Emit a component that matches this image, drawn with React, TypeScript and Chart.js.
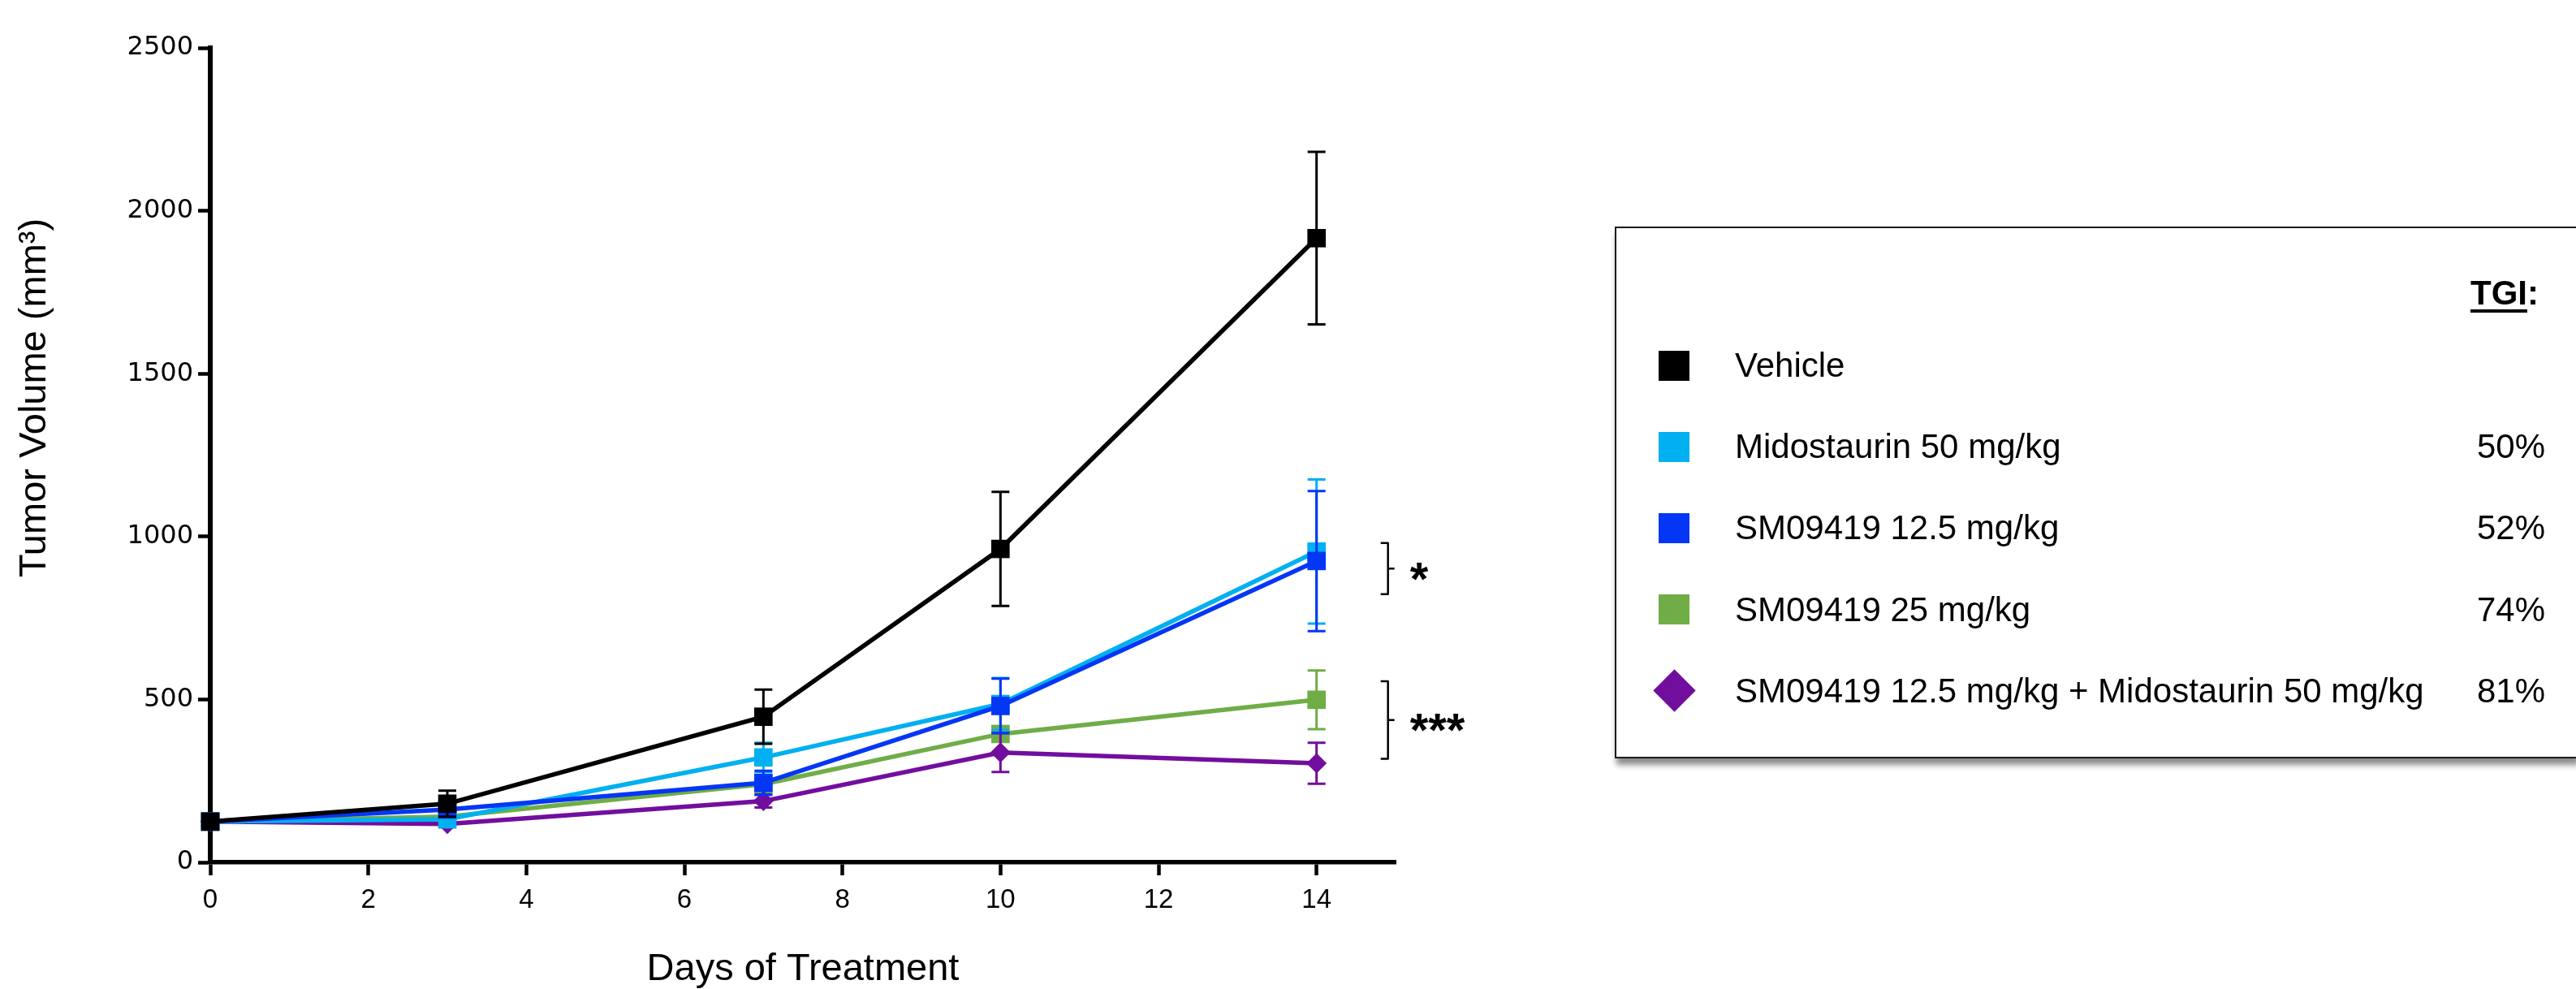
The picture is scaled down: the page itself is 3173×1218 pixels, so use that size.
import React, { useEffect, useRef } from "react";
import { Chart, registerables } from "chart.js";

Chart.register(...registerables);

// ---------- data ----------
const DAYS = [0, 3, 7, 10, 14];

const VEHICLE = [125, 180, 447, 962, 1916];
const VEHICLE_SEM = [8, 40, 83, 175, 265];

const MIDO = [125, 132, 322, 486, 954];
const MIDO_SEM = [8, 15, 45, 80, 221];

const SM125 = [125, 162, 244, 480, 925];
const SM125_SEM = [8, 12, 37, 84, 215];

const SM25 = [125, 140, 240, 394, 499];
const SM25_SEM = [8, 12, 20, 20, 90];

const COMBO = [125, 118, 188, 337, 304];
const COMBO_SEM = [8, 10, 20, 60, 63];

const SERIES_LABELS = [
  "Vehicle",
  "Midostaurin 50 mg/kg",
  "SM09419 12.5 mg/kg",
  "SM09419 25 mg/kg",
  "SM09419 12.5 mg/kg + Midostaurin 50 mg/kg",
];
const SERIES_COLORS = ["#000000", "#00B0F0", "#0436F5", "#70AD47", "#720E9E"];
const SERIES_SHAPES = ["rect", "rect", "rect", "rect", "rectRot"];
const DRAW_ORDER = [0, 2, 1, 4, 3]; // lower = drawn on top
const TGI_VALUES = ["", "50%", "52%", "74%", "81%"];

const X_MIN = 0;
const X_MAX = 15;
const X_STEP = 2;
const Y_MIN = 0;
const Y_MAX = 2500;
const Y_STEP = 500;

const X_TITLE = "Days of Treatment";
const Y_TITLE = "Tumor Volume (mm³)";
const LEGEND_HEADER = "TGI";

const SIG_FROM = [980, 556];
const SIG_TO = [823, 318];
const SIG_LABELS = ["*", "***"];

const SERIES_VALUES = [VEHICLE, MIDO, SM125, SM25, COMBO];
const SERIES_SEM = [VEHICLE_SEM, MIDO_SEM, SM125_SEM, SM25_SEM, COMBO_SEM];

const ARIAL = "'Liberation Sans', Arial, Helvetica, sans-serif";

export default function App() {
  const ref = useRef<HTMLCanvasElement>(null);

  useEffect(() => {
    const canvas = ref.current;
    if (!canvas) return;

    const errorBars = {
      id: "errorBars",
      beforeDatasetDraw(chart: any, args: any) {
        const i = args.index;
        const meta = args.meta;
        const y = chart.scales.y;
        const ctx = chart.ctx;
        ctx.save();
        ctx.strokeStyle = SERIES_COLORS[i];
        ctx.lineWidth = 3;
        ctx.lineCap = "butt";
        meta.data.forEach((pt: any, j: number) => {
          const v = SERIES_VALUES[i][j];
          const e = SERIES_SEM[i][j];
          const top = y.getPixelForValue(v + e);
          const bot = y.getPixelForValue(v - e);
          ctx.beginPath();
          ctx.moveTo(pt.x, top);
          ctx.lineTo(pt.x, bot);
          ctx.moveTo(pt.x - 11, top);
          ctx.lineTo(pt.x + 11, top);
          ctx.moveTo(pt.x - 11, bot);
          ctx.lineTo(pt.x + 11, bot);
          ctx.stroke();
        });
        ctx.restore();
      },
    };

    const annotations = {
      id: "annotations",
      afterDraw(chart: any) {
        const ctx = chart.ctx;
        const xs = chart.scales.x;
        const ys = chart.scales.y;
        // y axis title
        ctx.save();
        ctx.translate(43, 490);
        ctx.rotate(-Math.PI / 2);
        ctx.fillStyle = "#000";
        ctx.font = `47px ${ARIAL}`;
        ctx.textAlign = "center";
        ctx.textBaseline = "middle";
        ctx.fillText(Y_TITLE, 0, 0);
        ctx.restore();

        // significance brackets
        const xLine = xs.getPixelForValue(14) + 88;
        SIG_LABELS.forEach((lab, k) => {
          const t = ys.getPixelForValue(SIG_FROM[k]);
          const b = ys.getPixelForValue(SIG_TO[k]);
          const mid = (t + b) / 2;
          ctx.save();
          ctx.strokeStyle = "#000";
          ctx.lineWidth = 2.5;
          ctx.lineJoin = "round";
          ctx.beginPath();
          ctx.moveTo(xLine - 9, t);
          ctx.lineTo(xLine, t);
          ctx.lineTo(xLine, b);
          ctx.lineTo(xLine - 9, b);
          ctx.moveTo(xLine, mid);
          ctx.lineTo(xLine + 8, mid);
          ctx.stroke();
          ctx.fillStyle = "#000";
          ctx.font = `bold 58px ${ARIAL}`;
          ctx.textAlign = "left";
          ctx.textBaseline = "alphabetic";
          ctx.fillText(lab, xLine + 27, mid + 0.56 * 58);
          ctx.restore();
        });
      },
    };

    const datasets = SERIES_LABELS.map((label, i) => ({
      label,
      data: DAYS.map((d, j) => ({ x: d, y: SERIES_VALUES[i][j] })),
      borderColor: SERIES_COLORS[i],
      backgroundColor: SERIES_COLORS[i],
      borderWidth: 5.5,
      pointStyle: SERIES_SHAPES[i],
      pointRadius: SERIES_SHAPES[i] === "rectRot" ? 12.5 : 16,
      pointBorderWidth: 0,
      pointBackgroundColor: SERIES_COLORS[i],
      tension: 0,
      clip: false,
      order: DRAW_ORDER[i],
    }));

    const chart = new Chart(canvas, {
      type: "line",
      data: { datasets },
      plugins: [errorBars, annotations],
      options: {
        responsive: false,
        animation: false,
        events: [],
        layout: { padding: { left: 0, top: 59, right: 1454, bottom: 0 } },
        plugins: {
          legend: { display: false },
          tooltip: { enabled: false },
        },
        scales: {
          x: {
            type: "linear",
            min: X_MIN,
            max: X_MAX,
            border: { display: true, color: "#000", width: 5.5 },
            grid: {
              display: true,
              drawOnChartArea: false,
              drawTicks: true,
              tickLength: 16,
              tickWidth: 4.5,
              tickColor: "#000",
              color: "#000",
            },
            ticks: {
              stepSize: X_STEP,
              includeBounds: false,
              autoSkip: false,
              maxRotation: 0,
              color: "#000",
              padding: 11,
              font: { family: ARIAL, size: 33 },
              callback: (v: any) => String(v),
            },
            title: {
              display: true,
              text: X_TITLE,
              color: "#000",
              padding: 0,
              font: { family: ARIAL, size: 47, lineHeight: 1 },
            },
            afterFit: (s: any) => {
              s.height = 156;
            },
          },
          y: {
            type: "linear",
            min: Y_MIN,
            max: Y_MAX,
            border: { display: true, color: "#000", width: 6 },
            grid: {
              display: true,
              drawOnChartArea: false,
              drawTicks: true,
              tickLength: 15,
              tickWidth: 4.5,
              tickColor: "#000",
              color: "#000",
            },
            ticks: {
              stepSize: Y_STEP,
              color: "#000",
              padding: 6,
              font: { family: "'DejaVu Sans', Verdana, sans-serif", size: 32 },
              callback: (v: any) => String(v),
            },
            afterFit: (s: any) => {
              s.width = 259;
            },
          },
        },
      } as any,
    });

    return () => chart.destroy();
  }, []);

  const rowCenter = (i: number) => 450 + i * 100.2;

  return (
    <div
      style={{
        position: "fixed",
        left: 0,
        top: 0,
        width: 3173,
        height: 1218,
        background: "#fff",
        overflow: "hidden",
        fontFamily: ARIAL,
      }}
    >
      <canvas ref={ref} width={3173} height={1218} style={{ position: "absolute", left: 0, top: 0, width: 3173, height: 1218 }} />
      <div
        style={{
          position: "absolute",
          left: 1989,
          top: 279,
          width: 1186,
          height: 655,
          boxSizing: "border-box",
          border: "2.5px solid #1a1a1a",
          boxShadow: "2px 8px 7px rgba(0,0,0,0.45)",
          background: "#fff",
        }}
      />
      <div
        style={{
          position: "absolute",
          left: 3043,
          top: 361 - 30,
          height: 60,
          lineHeight: "60px",
          fontSize: 42,
          fontWeight: "bold",
          color: "#000",
          whiteSpace: "nowrap",
        }}
      >
        <span style={{ textDecoration: "underline", textDecorationThickness: 4, textUnderlineOffset: 6 }}>{LEGEND_HEADER}</span>:
      </div>
      {SERIES_LABELS.map((label, i) => {
        const c = rowCenter(i);
        const isDiamond = SERIES_SHAPES[i] === "rectRot";
        return (
          <React.Fragment key={label}>
            {isDiamond ? (
              <div
                style={{
                  position: "absolute",
                  left: 2062 - 18.5,
                  top: c - 18.5,
                  width: 37,
                  height: 37,
                  background: SERIES_COLORS[i],
                  transform: "rotate(45deg)",
                }}
              />
            ) : (
              <div
                style={{
                  position: "absolute",
                  left: 2043,
                  top: c - 18.5,
                  width: 38,
                  height: 37,
                  background: SERIES_COLORS[i],
                }}
              />
            )}
            <div
              style={{
                position: "absolute",
                left: 2137,
                top: c - 30,
                height: 60,
                lineHeight: "60px",
                fontSize: 42,
                color: "#000",
                whiteSpace: "nowrap",
              }}
            >
              {label}
            </div>
            {TGI_VALUES[i] ? (
              <div
                style={{
                  position: "absolute",
                  left: 3051,
                  top: c - 30,
                  height: 60,
                  lineHeight: "60px",
                  fontSize: 42,
                  color: "#000",
                  whiteSpace: "nowrap",
                }}
              >
                {TGI_VALUES[i]}
              </div>
            ) : null}
          </React.Fragment>
        );
      })}
    </div>
  );
}
